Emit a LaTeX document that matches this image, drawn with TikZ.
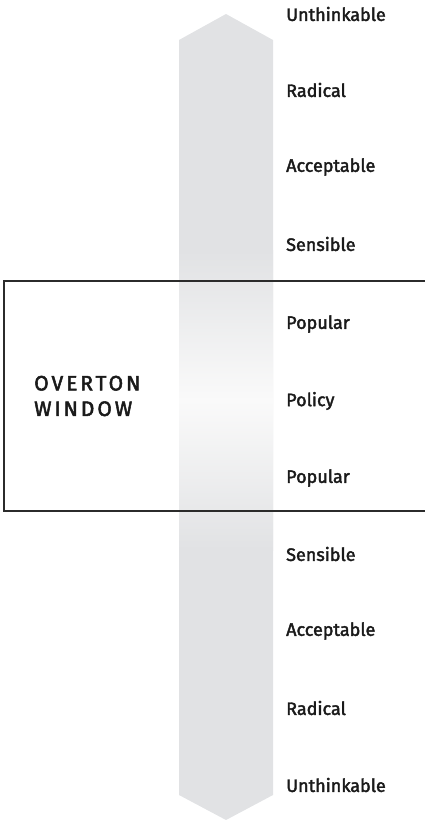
\documentclass[tikz,border=0pt]{standalone}
\usepackage{fontspec}
\setmainfont{Fira Sans}[FakeBold=2]
\newfontfamily\lblfont[FakeBold=2.2]{Fira Sans}
\newfontfamily\ovfont[LetterSpace=14,FakeBold=2.4]{Fira Sans}
\definecolor{bandgray}{HTML}{E1E2E4}
\definecolor{bandlight}{HTML}{FAFAFA}
\definecolor{boxline}{HTML}{2B2B2B}
\definecolor{labeltext}{HTML}{1A1A1A}
\begin{document}
\begin{tikzpicture}[x=1pt,y=-1pt,
  lbl/.style={anchor=west,inner sep=0pt,text=labeltext,font=\lblfont\fontsize{18}{20}\selectfont},
  windowbox/.style={draw=boxline,line width=1.6pt}]
\useasboundingbox (0,0) rectangle (425,821);
% arrow band
\fill[bandgray] (226,14) -- (273,40) -- (273,795) -- (226,820) -- (179,795) -- (179,40) -- cycle;
\shade[top color=bandgray,bottom color=bandlight] (179,250) rectangle (273,401);
\shade[top color=bandlight,bottom color=bandgray] (179,400) rectangle (273,550);
% window
\draw[windowbox] (430,281) -- (4,281) -- (4,511) -- (430,511);
\node[anchor=west,inner sep=0pt,text=labeltext,align=left,font=\ovfont\fontsize{21}{25.5}\selectfont] (ow) at (34,396) {OVERTON\\WINDOW};
% labels
\node[lbl] (u1) at (286,14) {Unthinkable};
\node[lbl] (r1) at (286,90) {Radical};
\node[lbl] (a1) at (286,167) {Acceptable};
\node[lbl] (s1) at (286,244) {Sensible};
\node[lbl] (p1) at (286,324) {Popular};
\node[lbl] (po) at (286,401) {Policy};
\node[lbl] (p2) at (286,478) {Popular};
\node[lbl] (s2) at (286,554) {Sensible};
\node[lbl] (a2) at (286,631) {Acceptable};
\node[lbl] (r2) at (286,708) {Radical};
\node[lbl] (u2) at (286,785) {Unthinkable};
\end{tikzpicture}
\end{document}
